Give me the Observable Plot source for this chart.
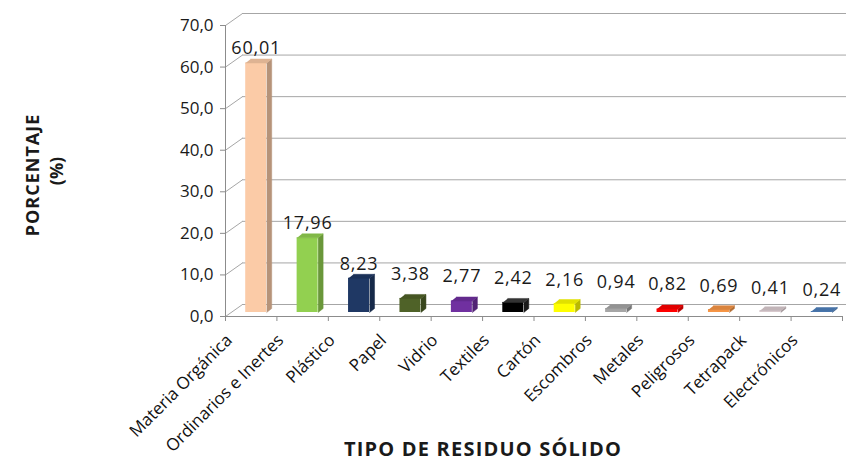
<!DOCTYPE html>
<html><head><meta charset="utf-8">
<script src="https://cdn.jsdelivr.net/npm/d3@7"></script>
<script src="https://cdn.jsdelivr.net/npm/@observablehq/plot@0.6"></script>
<style>
html,body{margin:0;padding:0;background:#fff;}
#chart svg{font-family:"Open Sans",sans-serif;}
</style>
</head><body><div id="chart"></div>
<script>
const categories = ["Materia Orgánica","Ordinarios e Inertes","Plástico","Papel","Vidrio","Textiles","Cartón","Escombros","Metales","Peligrosos","Tetrapack","Electrónicos"];
const values = [60.01, 17.96, 8.23, 3.38, 2.77, 2.42, 2.16, 0.94, 0.82, 0.69, 0.41, 0.24];
const colors = ["#FBCBA7","#92D050","#1F3864","#4F6228","#7030A0","#000000","#FFFF00","#A6A6A6","#FF0000","#F79646","#DCCDD1","#4F81BD"];
const yTicks = [0,10,20,30,40,50,60,70];
const yTitle = "PORCENTAJE";
const yTitle2 = "(%)";
const xTitle = "TIPO DE RESIDUO SÓLIDO";

const W = 846, H = 464, mL = 225, mR = 4, mT = 25, mB = 148;
const n = categories.length;
const kx = (W - mL - mR) / n;          // px per category unit
const ky = (H - mT - mB) / 70;         // px per y unit
const wall = {dx: 17, dy: 12};         // back wall depth (px)
const bar = {dx: 5, dy: 4, half: 10.5, ddx: 5, ddy: 4}; // bar placement & depth (px)
const fmt = (v, d) => v.toFixed(d).replace(".", ",");

const data = categories.map((c, i) => ({i, c, v: values[i], fill: colors[i],
  side: i === 5 ? "#1a1a1a" : d3.color(colors[i]).darker(0.9).formatHex(),
  top: i === 5 ? "#333333" : d3.color(colors[i]).darker(0.35).formatHex()}));

const xl = d => d.i + 0.5 - bar.half / kx;
const xr = d => d.i + 0.5 + bar.half / kx;
const ox = bar.ddx / kx, oy = bar.ddy / ky;

const sidePts = data.flatMap(d => [
  {i: d.i, f: d.side, x: xr(d), y: 0},
  {i: d.i, f: d.side, x: xr(d) + ox, y: oy},
  {i: d.i, f: d.side, x: xr(d) + ox, y: d.v + oy},
  {i: d.i, f: d.side, x: xr(d), y: d.v}
]);
const topPts = data.flatMap(d => [
  {i: d.i, f: d.top, x: xl(d), y: d.v},
  {i: d.i, f: d.top, x: xr(d), y: d.v},
  {i: d.i, f: d.top, x: xr(d) + ox, y: d.v + oy},
  {i: d.i, f: d.top, x: xl(d) + ox, y: d.v + oy}
]);

const grid = "#a6a6a6";
const plot = Plot.plot({
  width: W, height: H,
  marginLeft: mL, marginRight: mR, marginTop: mT, marginBottom: mB,
  x: {domain: [0, n], axis: null},
  y: {domain: [0, 70], axis: null},
  color: {type: "identity"},
  style: {fontFamily: "Open Sans, sans-serif", overflow: "visible"},
  marks: [
    Plot.ruleY(yTicks, {y: d => d, x1: 0, x2: n, dx: wall.dx, dy: -wall.dy, stroke: grid}),
    Plot.link(yTicks, {x1: 0, y1: d => d, x2: wall.dx / kx, y2: d => d + wall.dy / ky, stroke: grid}),
    Plot.ruleY([0], {x1: 0, x2: n, stroke: "#8c8c8c"}),
    Plot.ruleX([0], {y1: 0, y2: 70, stroke: "#8c8c8c"}),
    Plot.rectY(data, {x1: xl, x2: xr, y1: 0, y2: "v", fill: "fill", dx: bar.dx, dy: -bar.dy}),
    Plot.line(sidePts, {x: "x", y: "y", z: "i", fill: "f", stroke: "f", strokeWidth: 0.5, dx: bar.dx, dy: -bar.dy}),
    Plot.line(topPts, {x: "x", y: "y", z: "i", fill: "f", stroke: "f", strokeWidth: 0.5, dx: bar.dx, dy: -bar.dy}),
    Plot.text(data, {x: d => d.i + 0.5, y: d => Math.max(d.v, (29.5 - 2 * d.i) / ky), text: d => fmt(d.v, 2),
      dx: bar.dx, dy: -18.5, fontSize: 18, fill: "#1a1a1a"}),
    Plot.axisY(yTicks, {tickFormat: d => fmt(d, 1), tickSize: 5, tickPadding: 7, fontSize: 17, stroke: "#8c8c8c", color: "#1a1a1a", label: null}),
    Plot.axisX(d3.range(n + 1), {tickFormat: () => "", tickSize: 5, stroke: "#8c8c8c", label: null}),
    Plot.text(data, {x: d => d.i + 0.5, y: 0, text: "c", rotate: -45, textAnchor: "end", dx: -22, dy: 21, fontSize: 17, fill: "#111"}),
    Plot.text([yTitle], {frameAnchor: "left", textAnchor: "middle", dx: -192, dy: 4, rotate: -90, fontSize: 18, fontWeight: "bold", fill: "#1a1a1a"}),
    Plot.text([yTitle2], {frameAnchor: "left", textAnchor: "middle", dx: -168, dy: 0, rotate: -90, fontSize: 18, fontWeight: "bold", fill: "#1a1a1a"}),
    Plot.text([xTitle], {frameAnchor: "bottom", dx: -51, dy: 139, fontSize: 20, fontWeight: "bold", fill: "#1a1a1a"})
  ]
});
// letter spacing to match the wider original lettering
const sel = d3.select(plot).selectAll("text");
sel.filter(function() { return this.textContent === xTitle; }).attr("letter-spacing", 1.2);
sel.filter(function() { return this.textContent === yTitle; }).attr("letter-spacing", 1);
const labelSet = new Set(values.map(v => fmt(v, 2)));
sel.filter(function() { return labelSet.has(this.textContent); }).attr("letter-spacing", 0.8);
document.getElementById("chart").appendChild(plot);
</script>
</body></html>
